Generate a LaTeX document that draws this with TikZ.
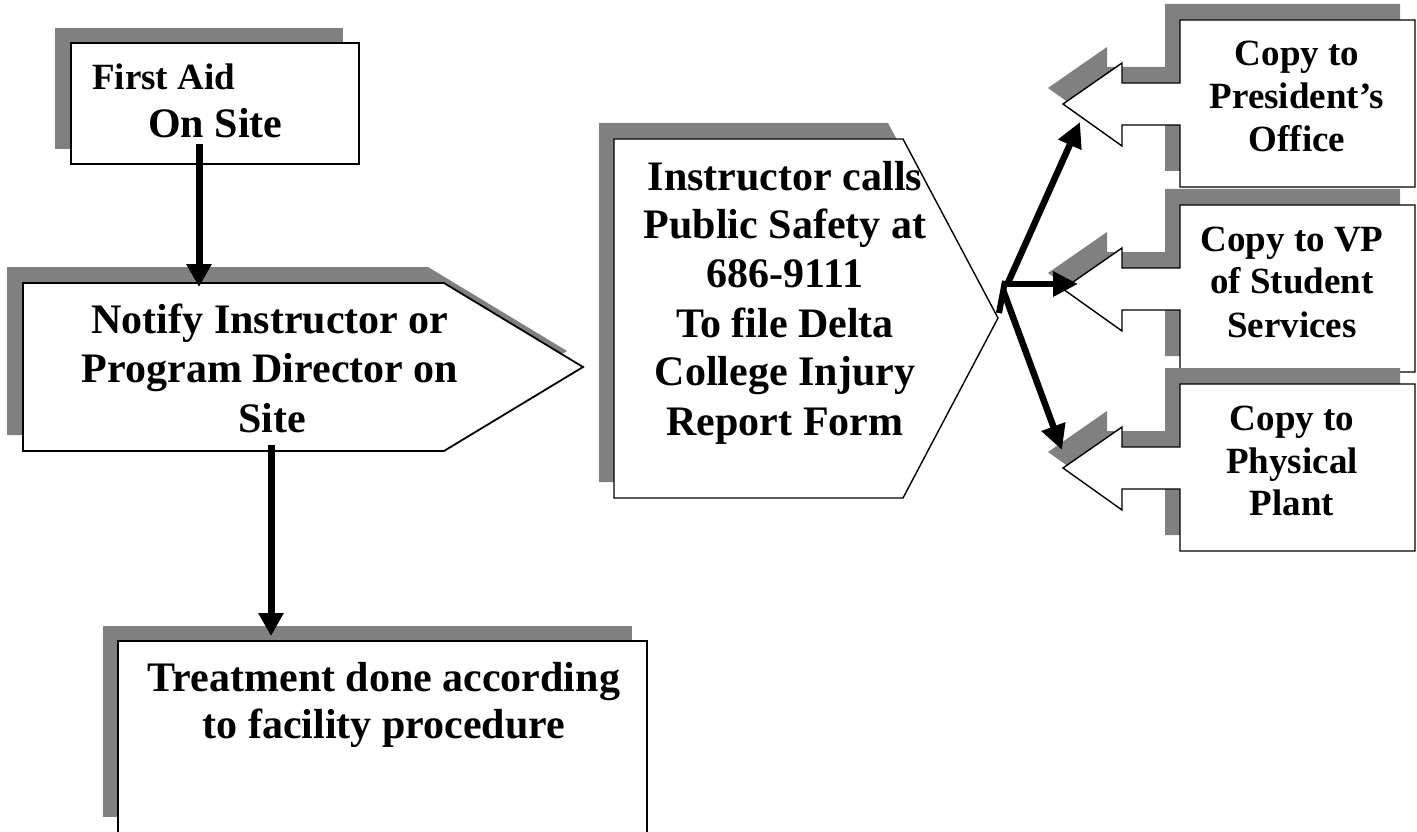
\documentclass[tikz,border=0pt]{standalone}
\usepackage{fontspec}
\setmainfont{Liberation Serif}
\usetikzlibrary{arrows.meta}
\definecolor{shgray}{HTML}{808080}
\begin{document}
\begin{tikzpicture}[x=1pt,y=-1pt,
  shadowfill/.style={fill=shgray,draw=none},
  boxline/.style={draw=black,fill=white,line width=1.8pt},
  thinbox/.style={draw=black,fill=white,line width=1.4pt},
  flowarrow/.style={line width=7pt,-{Triangle[length=23pt,width=24pt]}},
  fanarrow/.style={line width=6.5pt,-{Triangle[length=25pt,width=24pt]}},
  bigtxt/.style={font=\fontsize{42}{49}\selectfont\bfseries,inner sep=0pt,anchor=base},
  smalltxt/.style={font=\fontsize{37}{43}\selectfont\bfseries,inner sep=0pt,anchor=base}]
\useasboundingbox (0,0) rectangle (1417,832);
\fill[white] (0,0) rectangle (1417,832);

% ---------- First Aid box
\fill[shadowfill] (55,28) rectangle (343,149);
\draw[boxline] (71,43) rectangle (359,164);
\node[smalltxt,anchor=base west] (fa1) at (92,90) {First Aid};
\node[bigtxt,anchor=base west] (fa2) at (148,138) {On Site};

% ---------- Notify box
\fill[shadowfill] (7,267) -- (428,267) -- (567,351) -- (428,435) -- (7,435) -- cycle;
\draw[boxline] (23,283) -- (444,283) -- (583,367) -- (444,451) -- (23,451) -- cycle;
\node[bigtxt] (n1) at (270,333) {Notify Instructor or};
\node[bigtxt] (n2) at (270,382) {Program Director on};
\node[bigtxt] (n3) at (272,432) {Site};

% ---------- Treatment box
\fill[shadowfill] (103,626) rectangle (632,817);
\draw[boxline] (118,641) rectangle (647,834);
\node[bigtxt] (t1) at (384,691) {Treatment done according};
\node[bigtxt] (t2) at (384,738) {to facility procedure};

% ---------- Instructor box
\fill[shadowfill] (599,123) -- (888,123) -- (983,302) -- (888,482) -- (599,482) -- cycle;
\draw[thinbox] (614,139) -- (903,139) -- (998,318) -- (903,498) -- (614,498) -- cycle;
\node[bigtxt] (i1) at (785,190) {Instructor calls};
\node[bigtxt] (i2) at (785,238) {Public Safety at};
\node[bigtxt] (i3) at (785,287) {686-9111};
\node[bigtxt] (i4) at (785,337) {To file Delta};
\node[bigtxt] (i5) at (785,385) {College Injury};
\node[bigtxt] (i6) at (785,435) {Report Form};

% ---------- Callout boxes
\def\callshape{(235,0) -- (0,0) -- (0,63) -- (-58,63) -- (-58,43) -- (-117,84) -- (-58,126) -- (-58,105) -- (0,105) -- (0,167) -- (235,167) -- cycle}
\begin{scope}[shift={(1180,20)}]
  \fill[shadowfill,shift={(-15,-16)}] \callshape;
  \draw[thinbox] \callshape;
  \coordinate (tipA) at (-117,84);
\end{scope}
\node[smalltxt] (a1) at (1297,66) {Copy to};
\node[smalltxt] (a2) at (1297,109) {President’s};
\node[smalltxt] (a3) at (1297,152) {Office};

\begin{scope}[shift={(1180,205)}]
  \fill[shadowfill,shift={(-15,-16)}] \callshape;
  \draw[thinbox] \callshape;
  \coordinate (tipB) at (-117,84);
\end{scope}
\node[smalltxt] (b1) at (1292,251) {Copy to VP};
\node[smalltxt] (b2) at (1292,293) {of Student};
\node[smalltxt] (b3) at (1292,337) {Services};

\begin{scope}[shift={(1180,384)}]
  \fill[shadowfill,shift={(-15,-16)}] \callshape;
  \draw[thinbox] \callshape;
  \coordinate (tipC) at (-117,84);
\end{scope}
\node[smalltxt] (c1) at (1292,430) {Copy to};
\node[smalltxt] (c2) at (1292,473) {Physical};
\node[smalltxt] (c3) at (1292,515) {Plant};

% ---------- Connectors
\coordinate (s1) at (199,144);
\coordinate (e1) at (199,287);
\draw[flowarrow] (s1) -- (e1);
\coordinate (s2) at (271,445);
\coordinate (e2) at (271,636);
\draw[flowarrow] (s2) -- (e2);

\coordinate (brU) at (1007,285);
\coordinate (brM) at (1004,284);
\coordinate (brD) at (1003,290);
\coordinate (endU) at (1080,122);
\coordinate (endM) at (1078,284);
\coordinate (endD) at (1062,450);
\coordinate (tk1) at (1005,281);
\coordinate (tk2) at (999,313);
\draw[line width=6pt] (tk1) -- (tk2);
\draw[fanarrow] (brU) -- (endU);
\draw[fanarrow] (brM) -- (endM);
\draw[fanarrow] (brD) -- (endD);
\end{tikzpicture}
\end{document}
